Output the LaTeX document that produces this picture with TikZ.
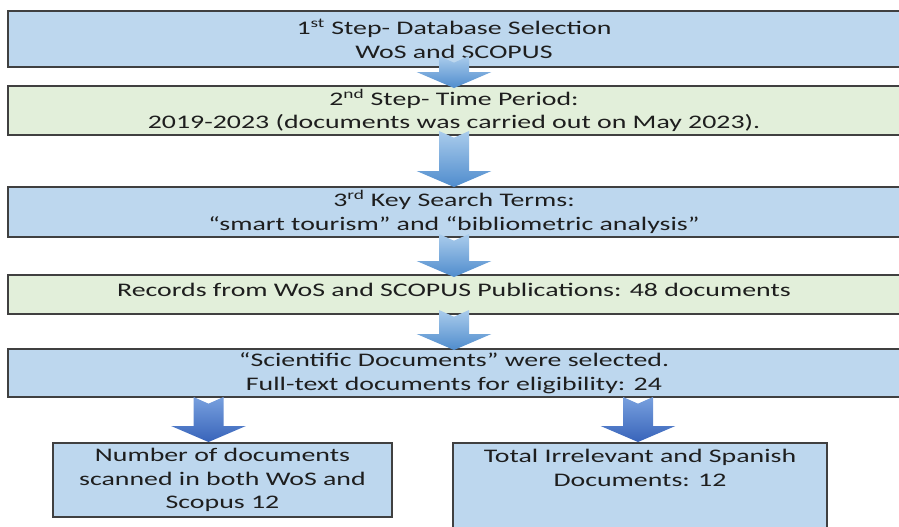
\documentclass[tikz,border=0pt]{standalone}
\usepackage{fontspec}
\setmainfont{Carlito}[FakeStretch=1.45]
\usetikzlibrary{calc}

\tikzset{every picture/.style={line width=0.75pt}}
\tikzset{
  stepbox/.style={draw={rgb, 255:red, 64; green, 64; blue, 64}, line width=1.5,
    fill={rgb, 255:red, 189; green, 215; blue, 238}, align=center, inner sep=0.75pt,
    text={rgb, 255:red, 30; green, 30; blue, 30}, font=\fontsize{14.4}{17.6}\selectfont},
  greenbox/.style={stepbox, fill={rgb, 255:red, 226; green, 239; blue, 218}},
  sized/.style 2 args={minimum width={#1*0.75pt}, minimum height={#2*0.75pt}},
  arrowfill/.style={top color={rgb, 255:red, 170; green, 204; blue, 236}, bottom color={rgb, 255:red, 79; green, 140; blue, 205}},
  arrowdark/.style={top color={rgb, 255:red, 120; green, 160; blue, 222}, bottom color={rgb, 255:red, 56; green, 100; blue, 186}}
}

% block arrow from tail #2 down to tip #3
\newcommand{\fatarrow}[3][arrowfill]{%
  \path[#1] let \p1=#2, \p2=#3 in
    ({\x1-11.25pt},{\y1}) -- ({\x1},{\y1+5pt}) -- ({\x1+11.25pt},{\y1})
    -- ({\x1+11.25pt},{\y2-12pt}) -- ({\x1+28pt},{\y2-12pt}) -- ({\x1},{\y2})
    -- ({\x1-28pt},{\y2-12pt}) -- ({\x1-11.25pt},{\y2-12pt}) -- cycle;}

\begin{document}
\begin{tikzpicture}[x=0.75pt,y=0.75pt,yscale=-1,xscale=1]
\useasboundingbox (0,0) rectangle (899,526);

%Steps
\node[stepbox, sized={892}{56}] (dbsel) at (454,39) {1\textsuperscript{st} Step- Database Selection\\WoS and SCOPUS};
\node[greenbox, sized={892}{49}] (period) at (454,110.5) {2\textsuperscript{nd} Step- Time Period:\\2019-2023 (documents was carried out on May 2023).};
\node[stepbox, sized={892}{50}] (terms) at (454,212) {3\textsuperscript{rd} Key Search Terms:\\“smart tourism” and “bibliometric analysis”};
\node[greenbox, sized={892}{39}, text depth=7.2pt] (records) at (454,294.5) {Records from WoS and SCOPUS Publications: 48 documents};
\node[stepbox, sized={892}{48}] (selected) at (454,373) {“Scientific Documents” were selected.\\Full-text documents for eligibility: 24};

%Results
\node[stepbox, sized={339}{74}] (scanned) at (222.5,480) {Number of documents\\scanned in both WoS and\\Scopus 12};
\node[stepbox, sized={374}{90}] (irrelevant) at (640,488) {};
\node[anchor=north, align=center, inner sep=0.75pt, text={rgb, 255:red, 30; green, 30; blue, 30}, font=\fontsize{14.4}{17.6}\selectfont] (irrtext) at ($(irrelevant.north)+(0,6)$) {Total Irrelevant and Spanish\\Documents: 12};

%Block arrows
\fatarrow{($(dbsel.south)+(0,-12)$)}{($(period.north)+(0,3)$)}
\fatarrow{($(period.south)+(0,-5)$)}{($(terms.north)+(0,1)$)}
\fatarrow{($(terms.south)+(0,-4)$)}{($(records.north)+(0,3)$)}
\fatarrow{($(records.south)+(0,-5)$)}{($(selected.north)+(0,2)$)}
\fatarrow[arrowdark]{($(selected.south -| scanned.north)+(-14,-1)$)}{($(scanned.north)+(-14,0)$)}
\fatarrow[arrowdark]{($(selected.south -| irrelevant.north)+(-2,-1)$)}{($(irrelevant.north)+(-2,0)$)}

\end{tikzpicture}
\end{document}
